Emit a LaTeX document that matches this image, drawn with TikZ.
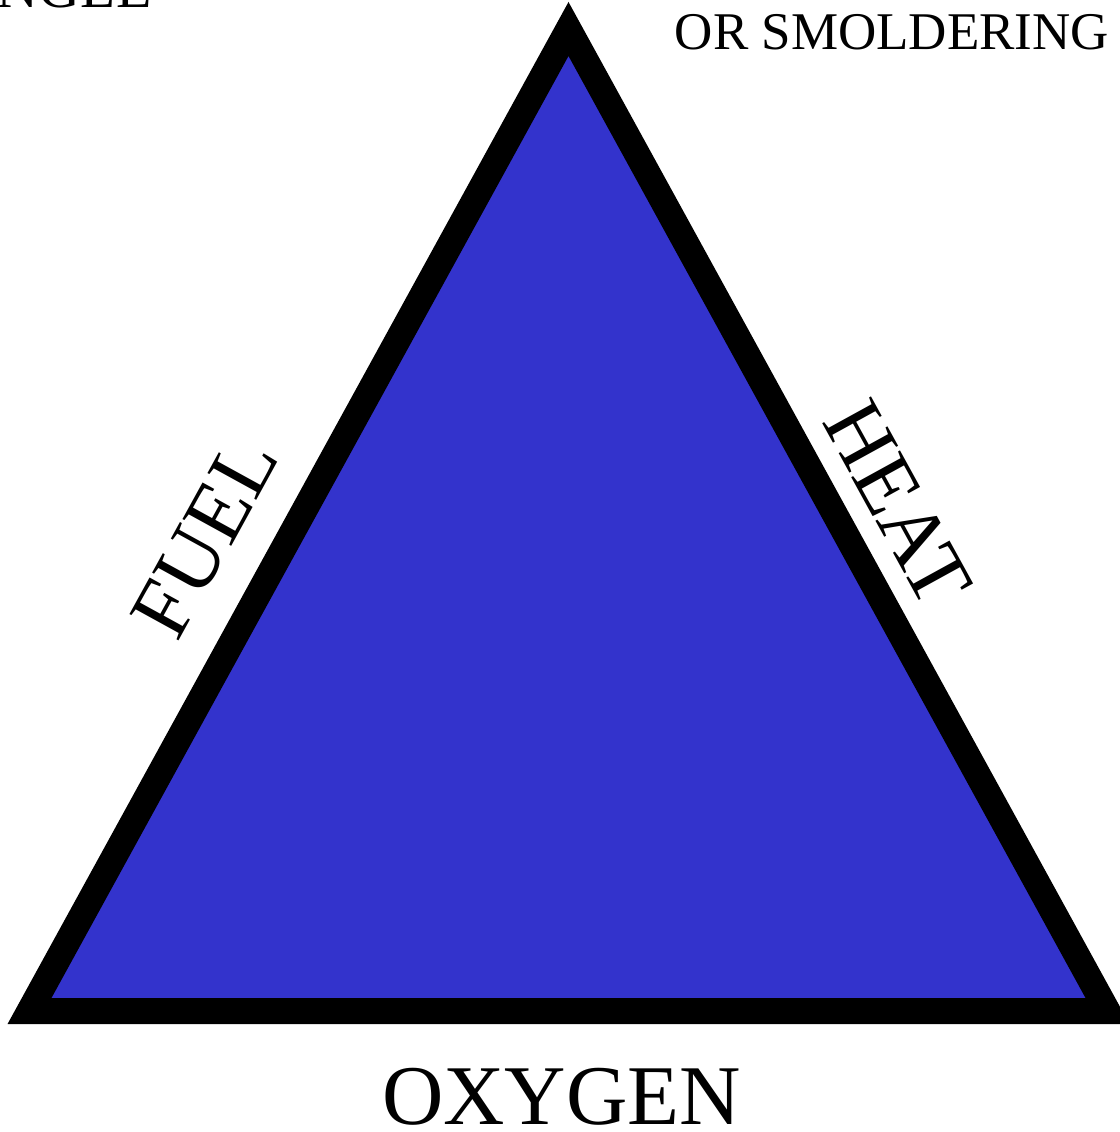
\documentclass[tikz,border=0pt]{standalone}
\usepackage{fontspec}
\setmainfont{Liberation Serif}
\usepackage{tikz}
\usetikzlibrary{positioning}
\definecolor{fireblue}{RGB}{51,51,204}

\begin{document}
\begin{tikzpicture}[
  x=0.5pt, y=-0.5pt,
  side/.style={draw=black, line width=13pt, line join=miter, fill=fireblue},
  biglabel/.style={inner sep=0pt, font=\fontsize{42.5pt}{48pt}\selectfont},
  smalllabel/.style={inner sep=0pt, font=\fontsize{26.5pt}{30pt}\selectfont}
]
  \useasboundingbox (0,0) rectangle (1120,1132);
  \clip (0,0) rectangle (1120,1132);

  \coordinate (apex) at (568.5,29);
  \coordinate (left) at (29.5,1011);
  \coordinate (right) at (1107.5,1011);
  \draw[side] (apex) -- (right) -- (left) -- cycle;

  \node[biglabel, rotate=61.2] (fuel) at (205,537) {FUEL};
  \node[biglabel, rotate=-61.2] (heat) at (898,503) {HEAT};
  \node[biglabel] (oxygen) at (561.5,1097) {OXYGEN};
  \node[smalllabel] (smolder) at (892,32.5) {OR SMOLDERING};
  \node[smalllabel, anchor=base east, font=\fontsize{29pt}{32pt}\selectfont] (title) at (152,7) {FIRE TRIANGLE};
\end{tikzpicture}
\end{document}
